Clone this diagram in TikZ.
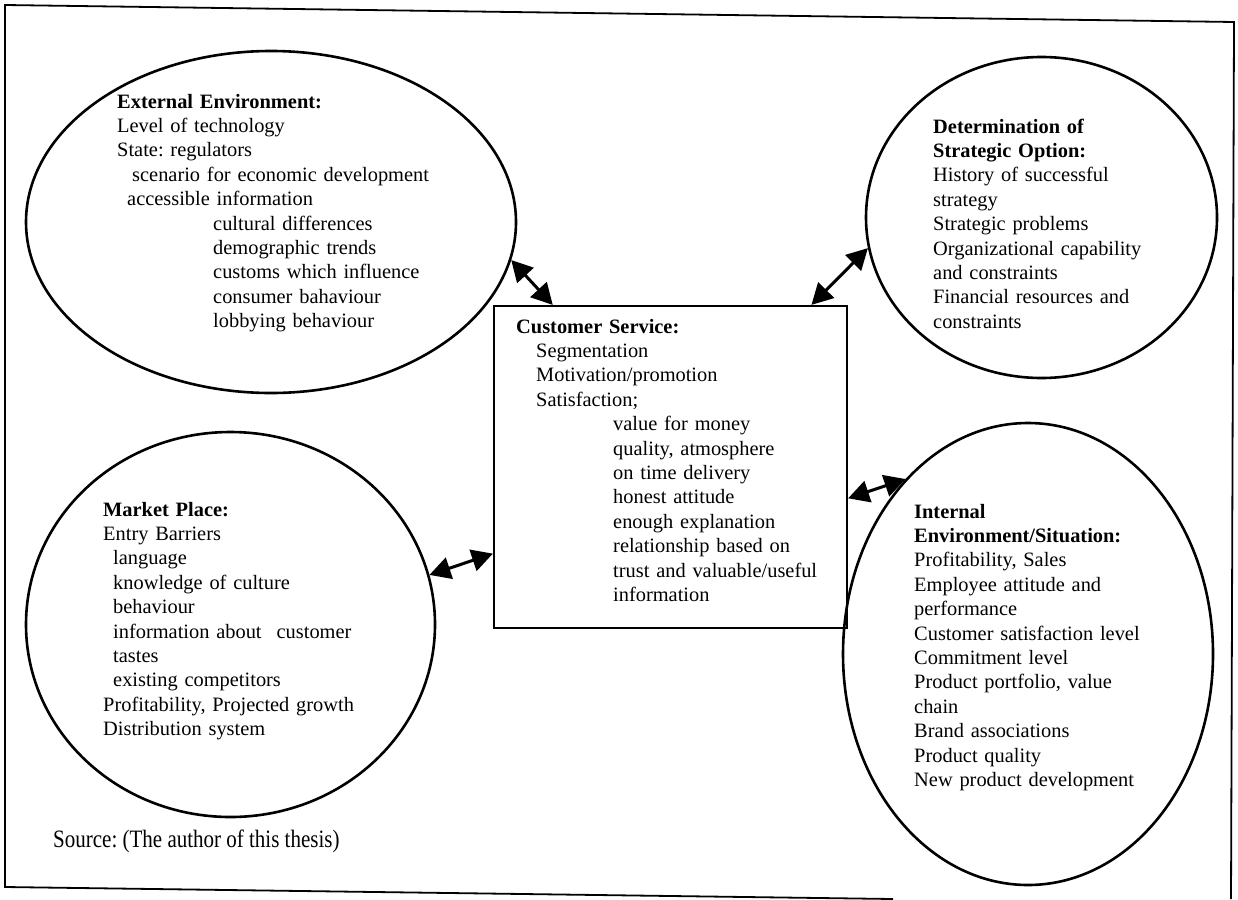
\documentclass[tikz,border=0pt]{standalone}
\usepackage{fontspec}
\setmainfont{Liberation Serif}
\frenchspacing
\usetikzlibrary{shapes.geometric,arrows.meta}

\begin{document}
\begin{tikzpicture}[x=1pt,y=-1pt,
  blob/.style={draw, ellipse, line width=2.6pt, inner sep=0pt},
  panel/.style={draw, rectangle, line width=2.2pt, inner sep=0pt},
  body/.style={anchor=base west, align=left, inner sep=0pt, text width=#1,
               font=\fontsize{20.4}{24.4}\selectfont},
  body/.default=340pt,
  link/.style={{Triangle[length=21pt,width=22pt]}-{Triangle[length=21pt,width=22pt]},
               line width=3pt},
]
\useasboundingbox (0,0) rectangle (1238,899);

% outer frame
\draw[line width=1.8pt] (893,899) -- (5,887) -- (5,5) -- (1234,22) -- (1231,899);

% shapes
\node[blob, minimum width=490pt, minimum height=342pt] (ext) at (271,222) {};
\node[blob, minimum width=409pt, minimum height=385pt] (mkt) at (230.5,624.5) {};
\node[blob, minimum width=351pt, minimum height=321pt] (strat) at (1041.5,217.5) {};
\node[blob, minimum width=370pt, minimum height=462pt] (intl) at (1028,654) {};
\node[panel, minimum width=353pt, minimum height=322pt] (cs) at (670.5,467) {};

% texts
\node[body] (exttxt) at (117,108) {\textbf{External Environment:}\\
Level of technology\\
State: regulators\\
\hspace*{15pt}scenario for economic development\\
\hspace*{10pt}accessible information\\
\hspace*{96pt}cultural differences\\
\hspace*{96pt}demographic trends\\
\hspace*{96pt}customs which influence\\
\hspace*{96pt}consumer bahaviour\\
\hspace*{96pt}lobbying behaviour};

\node[body=270pt] (strattxt) at (933,133) {\textbf{Determination of}\\
\textbf{Strategic Option:}\\
History of successful\\
strategy\\
Strategic problems\\
Organizational capability\\
and constraints\\
Financial resources and\\
constraints};

\node[body=320pt] (cstxt) at (516,333) {\textbf{Customer Service:}\\
\hspace*{20pt}Segmentation\\
\hspace*{20pt}Motivation/promotion\\
\hspace*{20pt}Satisfaction;\\
\hspace*{97pt}value for money\\
\hspace*{97pt}quality, atmosphere\\
\hspace*{97pt}on time delivery\\
\hspace*{97pt}honest attitude\\
\hspace*{97pt}enough explanation\\
\hspace*{97pt}relationship based on\\
\hspace*{97pt}trust and valuable/useful\\
\hspace*{97pt}information};

\node[body] (mkttxt) at (103,516) {\textbf{Market Place:}\\
Entry Barriers\\
\hspace*{10pt}language\\
\hspace*{10pt}knowledge of culture\\
\hspace*{10pt}behaviour\\
\hspace*{10pt}information about\hspace{15pt}customer\\
\hspace*{10pt}tastes\\
\hspace*{10pt}existing competitors\\
Profitability, Projected growth\\
Distribution system};

\node[body=300pt] (intltxt) at (914,518) {\textbf{Internal}\\
\textbf{Environment/Situation:}\\
Profitability, Sales\\
Employee attitude and\\
performance\\
Customer satisfaction level\\
Commitment level\\
Product portfolio, value\\
chain\\
Brand associations\\
Product quality\\
New product development};

\node[anchor=base west, inner sep=0pt, font=\fontsize{25}{30}\selectfont] (src) at (53,847)
  {\scalebox{0.84}[1]{Source: (The author of this thesis)}};

% two-way links
\draw[link] (ext.-9.6) -- (cs.126.1);
\draw[link] (strat.190) -- (cs.49.5);
\draw[link] (mkt.14.7) -- (cs.206);
\draw[link] (intl.125.7) -- (cs.-10);
\end{tikzpicture}
\end{document}
